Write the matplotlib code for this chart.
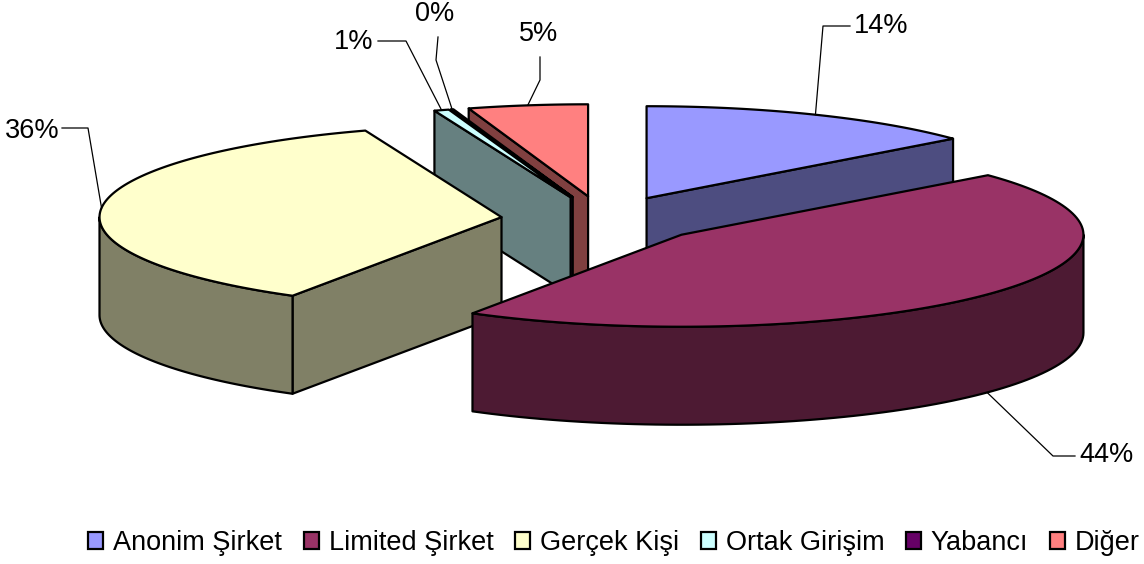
import numpy as np
import matplotlib
matplotlib.use("Agg")
import matplotlib.pyplot as plt
from matplotlib.patches import Patch, Polygon

plt.rcParams['font.family'] = ['Liberation Sans', 'DejaVu Sans']

categories = ["Anonim Şirket", "Limited Şirket", "Gerçek Kişi", "Ortak Girişim", "Yabancı", "Diğer"]
values = [13.8, 44.9, 35.8, 0.6, 0.1, 4.8]
value_labels = ["14%", "44%", "36%", "1%", "0%", "5%"]
top_colors = ["#9999FF", "#993366", "#FFFFCC", "#CCFFFF", "#660066", "#FF8080"]
side_colors = ["#4D4D80", "#4D1A33", "#808066", "#668080", "#330033", "#804040"]

# pie geometry, in figure pixels
CX, CY = 603.5, 219.5
RX, RY = 402, 92
DEPTH = 98
EXPLODE = 0.255
DRAW_ORDER = [0, 5, 4, 3, 2, 1]
LABEL_POS = [(881, 26), (1106, 455), (32, 131), (354, 42), (435, 14), (539, 34)]
LEADER_ELBOWS = [[(823, 26), (850, 26)], [(1053, 456), (1075, 456)], [(88, 128), (62, 128)],
                 [(406, 41), (378, 41)], [(436, 60), (438, 37)], [(540, 80), (540, 57)]]

fig = plt.figure(figsize=(11.44, 5.64), dpi=100)
ax = fig.add_axes([0, 0, 1, 1])
ax.set_xlim(0, 1144)
ax.set_ylim(564, 0)
ax.axis("off")

edges = np.concatenate([[0], np.cumsum(values)]) / np.sum(values) * 360.0


def rim(apex, deg):
    t = np.radians(deg)
    return np.column_stack([apex[0] + RX * np.sin(t), apex[1] - RY * np.cos(t)])


def add(points, color, z):
    ax.add_patch(Polygon(points, closed=True, facecolor=color, edgecolor="black",
                         linewidth=1.6, joinstyle="round", zorder=z))


for z, i in enumerate(DRAW_ORDER):
    start, end = edges[i], edges[i + 1]
    mid = np.radians((start + end) / 2)
    apex = (CX + EXPLODE * RX * np.sin(mid), CY - EXPLODE * RY * np.cos(mid))
    base = z * 10
    down = np.array([0, DEPTH])
    # cut faces that turn towards the viewer
    if 180 <= start < 360:
        p = rim(apex, [start])[0]
        add([apex, p, p + down, np.array(apex) + down], side_colors[i], base + 1)
    if 0 < end < 180:
        p = rim(apex, [end])[0]
        add([apex, p, p + down, np.array(apex) + down], side_colors[i], base + 1)
    # outer wall
    w0, w1 = max(start, 90), min(end, 270)
    if w1 > w0:
        arc = rim(apex, np.linspace(w0, w1, 80))
        add(np.vstack([arc, arc[::-1] + down]), side_colors[i], base + 2)
    # top face
    arc = rim(apex, np.linspace(start, end, 120))
    add(np.vstack([[apex], arc]), top_colors[i], base + 3)

    # label and leader line
    deg = (start + end) / 2
    a = rim(apex, [deg])[0]
    if 90 < deg < 270:
        a = a + down
    xs, ys = zip(a, *LEADER_ELBOWS[i])
    ax.plot(xs, ys, color="black", lw=0.9, zorder=200)
    ax.text(*LABEL_POS[i], value_labels[i], fontsize=19.5, ha="center", va="center", zorder=201)

handles = [Patch(facecolor=c, edgecolor="black", linewidth=1.6) for c in top_colors]
fig.legend(handles, categories, ncol=6, frameon=False, fontsize=19.5,
           loc="center", bbox_to_anchor=(614 / 1144, 1 - 543 / 564),
           handlelength=0.55, handleheight=0.55, handletextpad=0.37,
           columnspacing=0.8, borderpad=0, borderaxespad=0)

fig.savefig("out.png", dpi=100)
